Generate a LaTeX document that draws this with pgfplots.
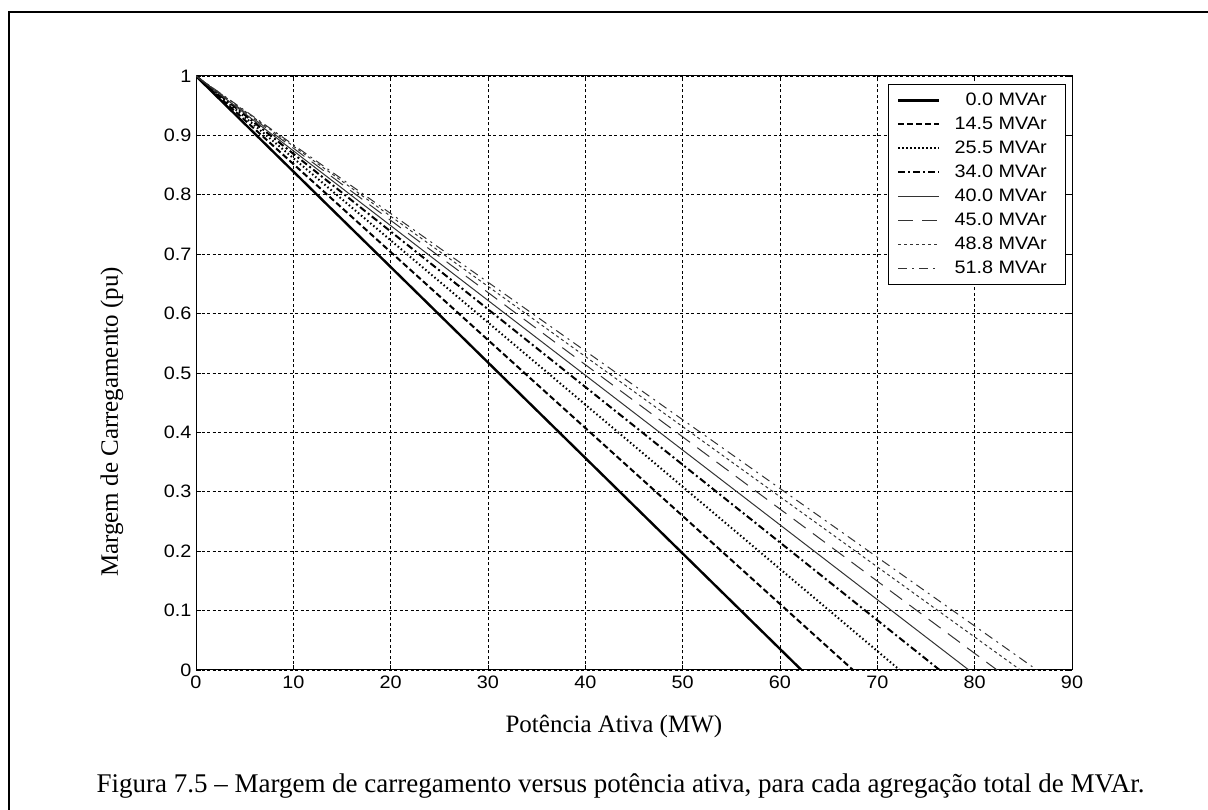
\documentclass[border=0pt]{standalone}
\usepackage{fontspec}
\usepackage{pgfplots}
\pgfplotsset{compat=1.18}
\setmainfont{Liberation Serif}
\newfontfamily\arialfont[FakeStretch=1.1]{Liberation Sans}
\newfontfamily\timesfont{Liberation Serif}
\begin{document}
\begin{tikzpicture}[x=1pt,y=1pt]
\useasboundingbox (0,0) rectangle (1208,810);
\draw[line width=2pt] (9,0) -- (9,798) -- (1208,798);
\begin{axis}[
  at={(196pt,140pt)}, anchor=south west,
  scale only axis, width=876pt, height=594pt,
  xmin=0, xmax=90, ymin=0, ymax=1,
  xtick={0,10,...,90},
  ytick={0,0.1,0.2,0.3,0.4,0.5,0.6,0.7,0.8,0.9,1},
  /pgf/number format/assume math mode=true,
  tick label style={font=\arialfont\fontsize{18}{20}\selectfont},
  xticklabel style={yshift=-2pt},
  yticklabel style={xshift=-1pt},
  grid=major,
  major grid style={black, line width=0.7pt, dash pattern=on 3pt off 2.5pt},
  axis line style={black, line width=1pt},
  tick align=inside, major tick length=5pt,
  tick style={black, line width=0.8pt},
  xlabel={Potência Ativa (MW)},
  ylabel={Margem de Carregamento (pu)},
  label style={font=\timesfont\fontsize{25}{28}\selectfont},
  xlabel style={at={(axis description cs:0.477,-0.1044)}, anchor=base},
  ylabel style={at={(axis description cs:-0.0959,0.4175)}, anchor=center, rotate=0},
  legend style={at={(0.9932,0.9865)}, anchor=north east, draw=black, line width=0.8pt,
    fill=white, inner xsep=9pt, inner ysep=4pt,
    font=\arialfont\fontsize{18}{20}\selectfont,
    column sep=14pt, row sep=0pt,
    nodes={inner sep=0pt, minimum height=24pt}},
  legend cell align=right,
  legend image code/.code={\draw[#1] (0pt,0pt) -- (41pt,0pt);},
]
\addplot[black, line width=2.4pt] coordinates {(0,1) (62.2,0)};
\addlegendentry{0.0 MVAr\hspace*{10pt}}
\addplot[black, line width=2pt, dash pattern=on 6pt off 3pt] coordinates {(0,1) (67.5,0)};
\addlegendentry{14.5 MVAr\hspace*{10pt}}
\addplot[black, line width=2pt, dash pattern=on 1.5pt off 2.5pt] coordinates {(0,1) (72.3,0)};
\addlegendentry{25.5 MVAr\hspace*{10pt}}
\addplot[black, line width=2pt, dash pattern=on 7pt off 3pt on 2pt off 3pt] coordinates {(0,1) (76.4,0)};
\addlegendentry{34.0 MVAr\hspace*{10pt}}
\addplot[black!80, line width=1pt] coordinates {(0,1) (79.4,0)};
\addlegendentry{40.0 MVAr\hspace*{10pt}}
\addplot[black!80, line width=1pt, dash pattern=on 15pt off 9pt] coordinates {(0,1) (82.3,0)};
\addlegendentry{45.0 MVAr\hspace*{10pt}}
\addplot[black!80, line width=1pt, dash pattern=on 3pt off 3pt] coordinates {(0,1) (84.7,0)};
\addlegendentry{48.8 MVAr\hspace*{10pt}}
\addplot[black!80, line width=1pt, dash pattern=on 9pt off 5pt on 2pt off 5pt] coordinates {(0,1) (86.4,0)};
\addlegendentry{51.8 MVAr\hspace*{10pt}}
\end{axis}
\node[anchor=base west, font=\timesfont\fontsize{27}{30}\selectfont] at (93,17)
  {Figura 7.5 – Margem de carregamento versus potência ativa, para cada agregação total de MVAr.};
\end{tikzpicture}
\end{document}
